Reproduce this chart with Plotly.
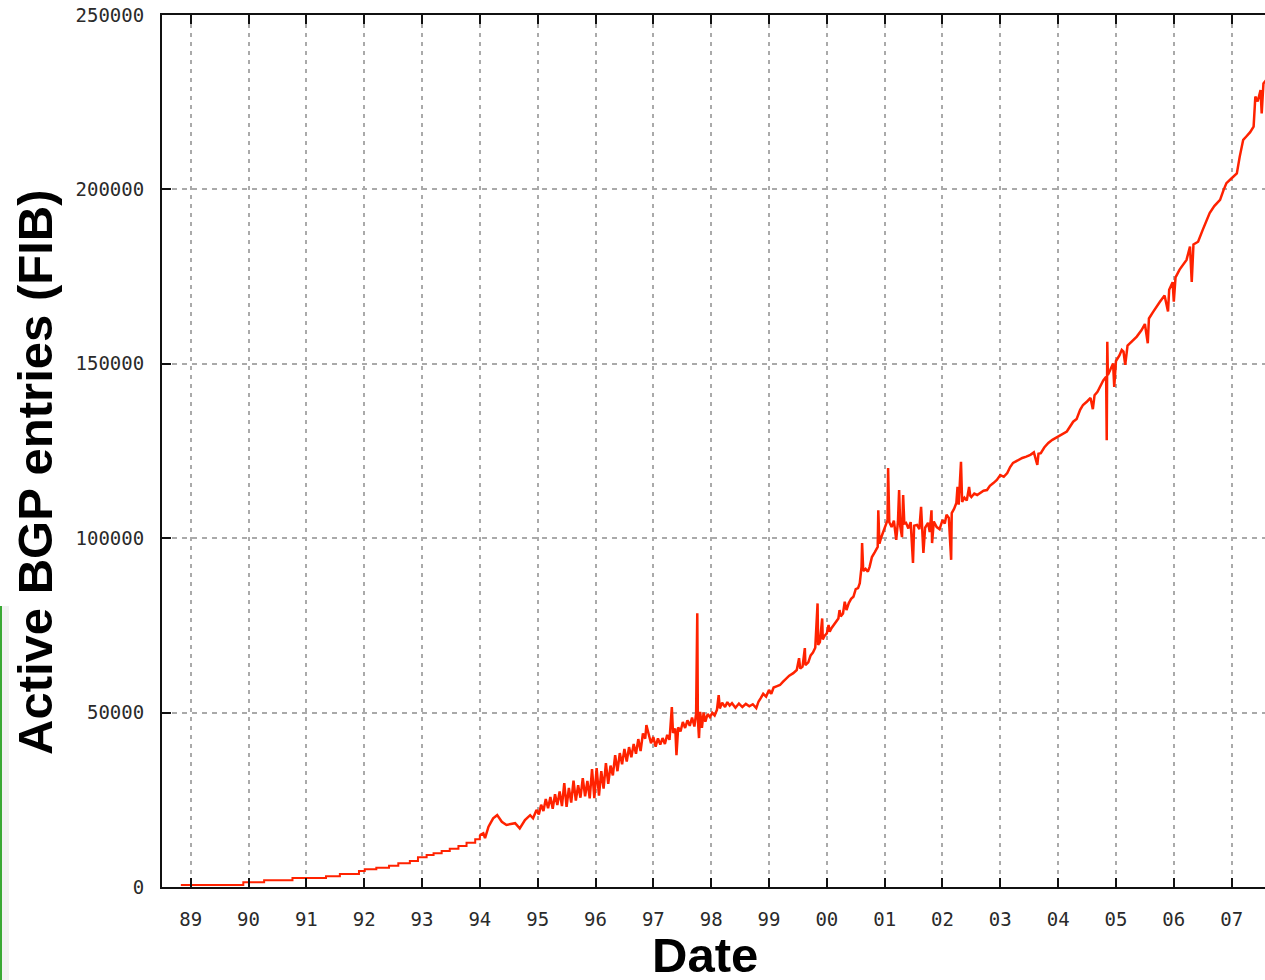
import plotly.graph_objects as go

# decimal year of each sample
years = [
    1988.83, 1989.91, 1990.27, 1990.76, 1991.34, 1991.58, 1991.91, 1992.01, 1992.21, 1992.43,
    1992.59, 1992.79, 1992.93, 1993.08, 1993.20, 1993.34, 1993.48, 1993.63, 1993.77, 1993.92,
    1994.00, 1994.06, 1994.09, 1994.15, 1994.23, 1994.30, 1994.38, 1994.46, 1994.61, 1994.69,
    1994.78, 1994.87, 1994.92, 1994.98,
    1995.02, 1995.06, 1995.10, 1995.14, 1995.18, 1995.22, 1995.26, 1995.30, 1995.34, 1995.38,
    1995.42, 1995.46, 1995.50, 1995.54, 1995.58, 1995.62, 1995.66, 1995.70, 1995.74, 1995.78,
    1995.82, 1995.86, 1995.90, 1995.94, 1995.98,
    1996.02, 1996.06, 1996.10, 1996.14, 1996.18, 1996.22, 1996.26, 1996.30, 1996.34, 1996.38,
    1996.42, 1996.46, 1996.50, 1996.54, 1996.58, 1996.62, 1996.66, 1996.70, 1996.74, 1996.78,
    1996.82, 1996.86, 1996.88, 1996.92, 1996.96,
    1997.00, 1997.04, 1997.08, 1997.12, 1997.16, 1997.20, 1997.24, 1997.28, 1997.32, 1997.34,
    1997.38, 1997.40, 1997.43, 1997.47, 1997.51, 1997.55, 1997.59, 1997.63, 1997.67, 1997.71,
    1997.74, 1997.76, 1997.77, 1997.79, 1997.81, 1997.84, 1997.87, 1997.90, 1997.94, 1997.98,
    1998.02, 1998.06, 1998.10, 1998.13, 1998.15, 1998.19, 1998.24, 1998.28, 1998.32, 1998.36,
    1998.42, 1998.48, 1998.54, 1998.60, 1998.66, 1998.72, 1998.78, 1998.82, 1998.86, 1998.90,
    1998.95,
    1999.00, 1999.04, 1999.08, 1999.14, 1999.19, 1999.24, 1999.30, 1999.35, 1999.42, 1999.48,
    1999.52, 1999.54, 1999.58, 1999.62, 1999.63, 1999.68, 1999.72, 1999.76, 1999.80, 1999.84,
    1999.85, 1999.88, 1999.92, 1999.93, 1999.96,
    2000.00, 2000.03, 2000.05, 2000.08, 2000.12, 2000.16, 2000.20, 2000.22, 2000.24, 2000.28,
    2000.31, 2000.34, 2000.38, 2000.42, 2000.46, 2000.50, 2000.54, 2000.57, 2000.60, 2000.61,
    2000.63, 2000.67, 2000.71, 2000.74, 2000.78, 2000.83, 2000.88, 2000.89, 2000.91, 2000.94,
    2000.97,
    2001.01, 2001.05, 2001.06, 2001.08, 2001.12, 2001.16, 2001.20, 2001.23, 2001.25, 2001.27,
    2001.30, 2001.32, 2001.34, 2001.37, 2001.41, 2001.45, 2001.49, 2001.51, 2001.56, 2001.60,
    2001.63, 2001.65, 2001.67, 2001.70, 2001.75, 2001.78, 2001.81, 2001.82, 2001.85, 2001.90,
    2001.95,
    2002.00, 2002.04, 2002.07, 2002.11, 2002.15, 2002.16, 2002.20, 2002.24, 2002.26, 2002.28,
    2002.32, 2002.34, 2002.38, 2002.42, 2002.46, 2002.48, 2002.50, 2002.55, 2002.60, 2002.65,
    2002.71, 2002.77, 2002.82, 2002.88, 2002.94,
    2003.00, 2003.06, 2003.12, 2003.17, 2003.22, 2003.30, 2003.38, 2003.45, 2003.52, 2003.58,
    2003.64, 2003.66, 2003.70, 2003.76, 2003.83, 2003.90, 2003.98,
    2004.06, 2004.15, 2004.26, 2004.32, 2004.38, 2004.43, 2004.50, 2004.56, 2004.60, 2004.63,
    2004.68, 2004.72, 2004.78, 2004.83, 2004.84, 2004.85, 2004.86, 2004.90, 2004.95, 2004.97,
    2005.00, 2005.06, 2005.10, 2005.13, 2005.16, 2005.20, 2005.28, 2005.36, 2005.44, 2005.50,
    2005.55, 2005.57, 2005.64, 2005.70, 2005.76, 2005.84, 2005.90, 2005.92, 2005.98,
    2006.00, 2006.03, 2006.10, 2006.17, 2006.22, 2006.28, 2006.31, 2006.34, 2006.42, 2006.50,
    2006.56, 2006.62, 2006.70, 2006.80, 2006.86, 2006.91,
    2007.00, 2007.09, 2007.14, 2007.20, 2007.25, 2007.32, 2007.38, 2007.41, 2007.45, 2007.50,
    2007.52, 2007.55, 2007.60,
]

# active BGP entries at each sample
entries = [
    570, 1350, 1900, 2580, 3060, 3730, 4590, 5070, 5540, 6110,
    6790, 7450, 8500, 9180, 9660, 10300, 10970, 11750, 12700, 13680,
    14900, 15400, 14000, 17300, 19700, 20600, 18700, 17800, 18300, 16800,
    19200, 20600, 19700, 22100,
    20800, 23600, 21800, 25200, 22600, 25800, 22400, 26600, 23500, 27400,
    23200, 29800, 23000, 28400, 24200, 30500, 24800, 29200, 25600, 31200,
    26000, 30400, 25400, 33800, 25500,
    34100, 26200, 33200, 28200, 35500, 29600, 34800, 32000, 37800, 33200,
    38400, 35200, 39600, 36000, 40100, 37200, 41000, 38200, 42400, 39000,
    44000, 42500, 46400, 43800, 41200,
    43000, 40200, 42600, 40800, 42700, 41000, 43600, 42200, 51600, 44200,
    45400, 37800, 45800, 44600, 47300, 45600, 47800, 46200, 48600, 46000,
    49800, 78500, 48200, 42700, 50200, 45600, 50000, 47400, 49600, 48700,
    49900, 49200, 50800, 55000, 51200, 52800, 51600, 53000, 52000, 52700,
    51400, 52600, 51600, 52500, 51800, 52400, 51300, 53200, 54200, 55400,
    54600,
    56500, 55400, 57200, 57600, 57900, 58800, 59800, 60600, 61300, 62200,
    65600, 62600, 63200, 68500, 63600, 64400, 66400, 67200, 68600, 81300,
    69400, 70200, 77000, 71000, 72000,
    72700, 75100, 73200, 74200, 75200, 76200, 77000, 79400, 77600, 78400,
    81800, 79400, 81400, 82600, 83200, 85400, 85700, 87100, 91800, 98600,
    90600, 91200, 90400, 91800, 94600, 96000, 97500, 108000, 98400, 100200,
    101500,
    103600, 105200, 120100, 104600, 103200, 105000, 99500, 104800, 113800, 103400,
    100300, 112400, 104200, 104400, 102800, 104600, 92900, 103600, 103800, 102600,
    109000, 104000, 95800, 103000, 104400, 101800, 108000, 98600, 104800, 103200,
    102600,
    105200, 104200, 106700, 105800, 93800, 107200, 108400, 110100, 114700, 109600,
    121900, 110400, 111600, 110800, 114700, 112200, 111800, 112800, 112400, 113000,
    113600, 113800, 115000, 115800, 116700,
    118100, 117600, 118700, 120400, 121600, 122400, 123000, 123400, 123900, 124600,
    121000, 124200, 124400, 126000, 127300, 128200, 129000,
    129800, 130600, 133400, 134200, 136800, 138200, 139200, 140200, 137000, 141000,
    142000, 143400, 145200, 146300, 128100, 156300, 146800, 148200, 150100, 143400,
    150800, 152400, 154000, 153500, 149700, 155200, 156400, 157800, 159600, 161400,
    155900, 163000, 164800, 166400, 167800, 169600, 165000, 171200, 173400,
    167800, 174800, 177000, 178800, 179800, 183600, 173500, 184200, 185000, 188400,
    190800, 193200, 195200, 197000, 199800, 201800,
    203200, 204600, 209400, 214200, 215100, 216400, 218000, 226600, 225200, 228500,
    221800, 230400, 231400,
]

# the early (pre-1994) part of the record is drawn as a staircase
STAIR_END = 1994.0

x_tick_years = list(range(1989, 2008))
x_tick_labels = ["89", "90", "91", "92", "93", "94", "95", "96", "97", "98",
                 "99", "00", "01", "02", "03", "04", "05", "06", "07"]
y_tick_values = [0, 50000, 100000, 150000, 200000, 250000]
y_tick_labels = ["0", "50000", "100000", "150000", "200000", "250000"]

W, H = 1265, 980
L, R, T, B = 162, 0, 15, 93
PW, PH = W - L - R, H - T - B


def px_x(px):
    return (px - L) / PW


def px_y(py):
    return (H - B - py) / PH


early = [(x, v) for x, v in zip(years, entries) if x <= STAIR_END]
late = [(x, v) for x, v in zip(years, entries) if x >= STAIR_END]

fig = go.Figure()
fig.add_trace(go.Scatter(
    x=[p[0] for p in early], y=[p[1] for p in early], mode="lines",
    line=dict(color="#ff2200", width=2, shape="hv"),
    hoverinfo="skip", showlegend=False,
))
fig.add_trace(go.Scatter(
    x=[p[0] for p in late], y=[p[1] for p in late], mode="lines",
    line=dict(color="#ff2200", width=2.5, shape="linear"),
    hoverinfo="skip", showlegend=False,
))

tick_font = dict(family="DejaVu Sans Mono", size=19, color="#2a2a2a")

fig.update_layout(
    width=W, height=H,
    margin=dict(l=L, r=R, t=T, b=B, pad=0),
    paper_bgcolor="white", plot_bgcolor="white",
    showlegend=False,
    xaxis=dict(
        range=[1988.504, 2007.577],
        tickmode="array", tickvals=x_tick_years, ticktext=x_tick_labels,
        ticks="inside", ticklen=9, tickwidth=2, tickcolor="#111111",
        showline=True, linecolor="#111111", linewidth=2, mirror="ticks",
        showgrid=True, gridcolor="#aaaaaa", gridwidth=1.5, griddash="4px,5px",
        zeroline=False, tickfont=tick_font, ticklabelstandoff=14,
    ),
    yaxis=dict(
        range=[0, 250000],
        tickmode="array", tickvals=y_tick_values, ticktext=y_tick_labels,
        ticks="inside", ticklen=9, tickwidth=2, tickcolor="#111111",
        showline=True, linecolor="#111111", linewidth=2, mirror=False,
        showgrid=True, gridcolor="#aaaaaa", gridwidth=1.5, griddash="5px,5px",
        zeroline=False, tickfont=tick_font, ticklabelstandoff=12,
    ),
)

fig.add_annotation(
    text="<b>Active BGP entries (FIB)</b>", textangle=-90,
    xref="paper", yref="paper", x=px_x(35), y=px_y(473),
    xanchor="center", yanchor="middle", showarrow=False,
    font=dict(family="Liberation Sans", size=49, color="black"),
)
fig.add_annotation(
    text="<b>Date</b>",
    xref="paper", yref="paper", x=px_x(705), y=px_y(955),
    xanchor="center", yanchor="middle", showarrow=False,
    font=dict(family="Liberation Sans", size=49, color="black"),
)

# decorative green edge at the left of the image
fig.add_shape(type="rect", xref="paper", yref="paper",
              x0=px_x(2), x1=px_x(9), y0=px_y(980), y1=px_y(606),
              fillcolor="rgba(0,0,0,0.05)", line=dict(width=0), layer="above")
fig.add_shape(type="line", xref="paper", yref="paper",
              x0=px_x(1), x1=px_x(1), y0=px_y(980), y1=px_y(606),
              line=dict(color="#3aa935", width=2), layer="above")

fig.write_html(
    "out.html",
    config={"displayModeBar": False},
    post_script="document.body.style.margin='0px';document.body.style.overflow='hidden';",
)
